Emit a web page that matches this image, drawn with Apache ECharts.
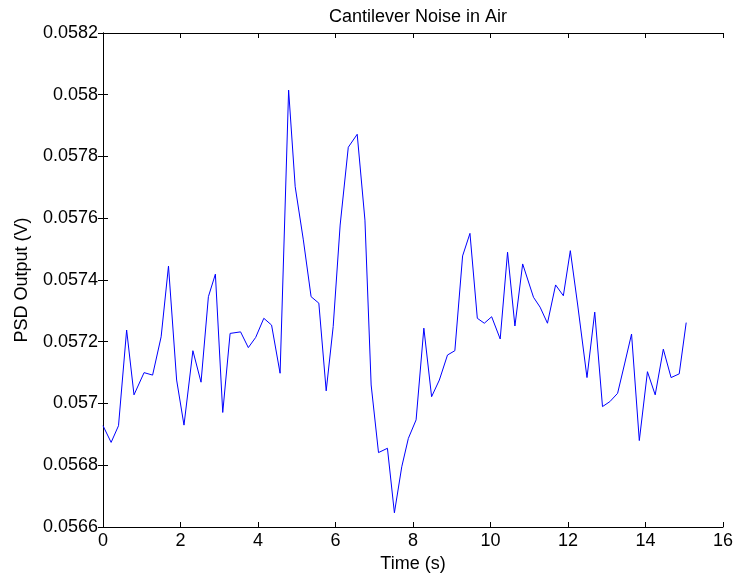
<!DOCTYPE html>
<html>
<head>
<meta charset="utf-8">
<script src="https://cdn.jsdelivr.net/npm/echarts@6/dist/echarts.min.js"></script>
<style>
  html, body { margin: 0; padding: 0; background: #fff; }
  #chart { width: 737px; height: 579px; }
</style>
</head>
<body>
<div id="chart"></div>
<script>
// 采样时间（秒）
const times = [
  0.00, 0.21, 0.40, 0.61, 0.80, 1.06, 1.28, 1.50, 1.69, 1.90,
  2.09, 2.32, 2.53, 2.72, 2.90, 3.09, 3.28, 3.55, 3.75, 3.94,
  4.15, 4.35, 4.57, 4.79, 4.96, 5.17, 5.37, 5.57, 5.76, 5.94,
  6.12, 6.33, 6.56, 6.76, 6.92, 7.11, 7.34, 7.52, 7.71, 7.88,
  8.08, 8.28, 8.48, 8.68, 8.89, 9.08, 9.28, 9.47, 9.66, 9.84,
  10.03, 10.25, 10.44, 10.63, 10.83, 11.11, 11.28, 11.47, 11.68, 11.88,
  12.06, 12.25, 12.49, 12.69, 12.89, 13.08, 13.28, 13.46, 13.64, 13.84,
  14.05, 14.25, 14.46, 14.66, 14.87, 15.05
];
// PSD 输出电压（V）
const psd = [
  0.056928, 0.056874, 0.056928, 0.057238, 0.057028, 0.057100, 0.057092, 0.057216, 0.057445, 0.057076,
  0.056930, 0.057171, 0.057069, 0.057346, 0.057419, 0.056971, 0.057227, 0.057232, 0.057181, 0.057214,
  0.057276, 0.057254, 0.057098, 0.058015, 0.057702, 0.057530, 0.057346, 0.057325, 0.057041, 0.057249,
  0.057578, 0.057830, 0.057872, 0.057594, 0.057060, 0.056841, 0.056855, 0.056646, 0.056795, 0.056887,
  0.056947, 0.057244, 0.057022, 0.057076, 0.057157, 0.057171, 0.057478, 0.057551, 0.057276, 0.057260,
  0.057281, 0.057209, 0.057490, 0.057251, 0.057452, 0.057344, 0.057312, 0.057260, 0.057384, 0.057349,
  0.057495, 0.057319, 0.057084, 0.057296, 0.056990, 0.057006, 0.057033, 0.057128, 0.057225, 0.056880,
  0.057103, 0.057028, 0.057176, 0.057084, 0.057096, 0.057262
];

const chart = echarts.init(document.getElementById('chart'));
const font = 'Liberation Sans, Arial, sans-serif';
const fs = 18;
const axisLine = { show: true, lineStyle: { color: '#000', width: 1 } };
const tick = { show: true, inside: true, length: 5, lineStyle: { color: '#000' } };

chart.setOption({
  animation: false,
  backgroundColor: '#fff',
  // 标题居中于绘图区而不是整张画布
  title: {
    text: 'Cantilever Noise in Air', left: 413, textAlign: 'center', top: 3,
    textStyle: { fontFamily: font, fontSize: fs, fontWeight: 'normal', color: '#000' },
  },
  grid: { left: 103, right: 14, top: 33, bottom: 52 },
  xAxis: [
    { type: 'value', min: 0, max: 16, interval: 2, position: 'bottom',
      name: 'Time (s)', nameLocation: 'middle', nameGap: 27,
      nameTextStyle: { fontFamily: font, fontSize: fs, color: '#000' },
      axisLine, axisTick: tick, splitLine: { show: false },
      axisLabel: { fontFamily: font, fontSize: fs, color: '#000', margin: 5 } },
    { type: 'value', min: 0, max: 16, interval: 2, position: 'top',
      axisLine, axisTick: tick, splitLine: { show: false }, axisLabel: { show: false } },
  ],
  yAxis: [
    { type: 'value', min: 0.0566, max: 0.0582, interval: 0.0002, position: 'left',
      name: 'PSD Output (V)', nameLocation: 'middle', nameGap: 72,
      nameTextStyle: { fontFamily: font, fontSize: fs, color: '#000' },
      axisLine, axisTick: tick, splitLine: { show: false },
      // MATLAB 风格：去掉末尾的 0
      axisLabel: { fontFamily: font, fontSize: fs, color: '#000', margin: 5,
        formatter: v => String(parseFloat(v.toFixed(4))) } },
    { type: 'value', min: 0.0566, max: 0.0582, interval: 0.0002, position: 'right',
      axisLine, axisTick: tick, splitLine: { show: false }, axisLabel: { show: false } },
  ],
  series: [{
    type: 'line',
    data: times.map((t, i) => [t, psd[i]]),
    showSymbol: false,
    lineStyle: { color: '#0000ff', width: 1 },
  }],
});
</script>
</body>
</html>
